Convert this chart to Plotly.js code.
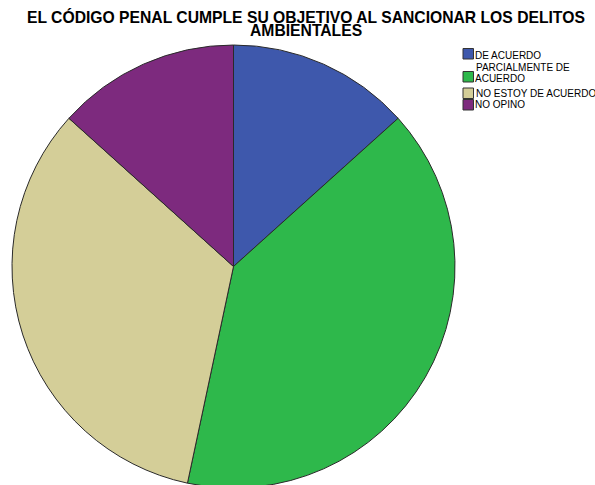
<!DOCTYPE html>
<html>
<head>
<meta charset="utf-8">
<script src="https://cdn.plot.ly/plotly-3.0.1.min.js"></script>
<style>
html,body{margin:0;padding:0;overflow:hidden;background:#fff;}
#chart{width:595px;height:492px;}
</style>
</head>
<body>
<div id="chart"></div>
<script>
const categories = ["DE ACUERDO", "PARCIALMENTE DE<br>ACUERDO", "NO ESTOY DE ACUERDO", "NO OPINO"];
const counts = [2, 6, 5, 2];
const colors = ["#3E58AC", "#2EB84B", "#D4CE98", "#7D2A7E"];
const titleLines = ["EL CÓDIGO PENAL CUMPLE SU OBJETIVO AL SANCIONAR LOS DELITOS", "AMBIENTALES"];

const W = 595, H = 492;
const cx = 233.5, cy = 266.5, r = 221.5;
const py = px => 1 - px / H;
const pxX = px => px / W;

const data = [{
  type: "pie",
  labels: categories,
  values: counts,
  sort: false,
  direction: "clockwise",
  rotation: 0,
  textinfo: "none",
  hoverinfo: "skip",
  showlegend: false,
  marker: {colors: colors, line: {color: "#2a2a2a", width: 1}},
  domain: {
    x: [pxX(cx - r), pxX(cx + r)],
    y: [py(cy + r), py(cy - r)]
  }
}];

const font = "Liberation Sans, Arial, sans-serif";
const annotations = [];
const shapes = [];

// title (two lines set tightly, as in the reference)
const titleY = [16.5, 31];
titleLines.forEach((t, i) => {
  annotations.push({
    text: "<b>" + t + "</b>", showarrow: false,
    xref: "paper", yref: "paper", x: pxX(306), y: py(titleY[i]),
    xanchor: "center", yanchor: "middle",
    font: {family: font, size: 15.7, color: "#000"}
  });
});

// compact legend
const squareTop = [48.5, 71.5, 88, 99.5];
const lineY = [[56], [68, 78], [93.5], [104.5]];
categories.forEach((c, i) => {
  shapes.push({
    type: "rect", xref: "paper", yref: "paper",
    x0: pxX(463), x1: pxX(473.5), y0: py(squareTop[i]), y1: py(squareTop[i] + 10.5),
    fillcolor: colors[i], line: {color: "#333333", width: 1}
  });
  c.split("<br>").forEach((part, j) => {
    annotations.push({
      text: part, showarrow: false,
      xref: "paper", yref: "paper", x: pxX(473.5), y: py(lineY[i][j]),
      xanchor: "left", yanchor: "middle",
      font: {family: font, size: 10, color: "#000"}
    });
  });
});

const layout = {
  width: W, height: H,
  margin: {l: 0, r: 0, t: 0, b: 0, autoexpand: false},
  paper_bgcolor: "#fff",
  showlegend: false,
  annotations: annotations,
  shapes: shapes
};

Plotly.newPlot("chart", data, layout, {displayModeBar: false, staticPlot: true});
</script>
</body>
</html>
